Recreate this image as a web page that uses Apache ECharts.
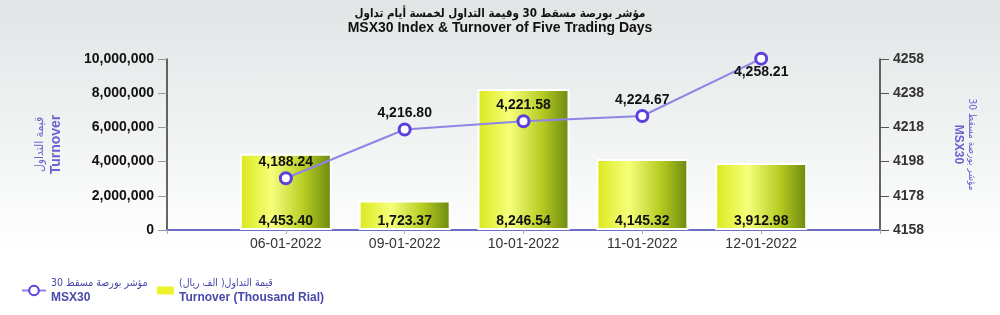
<!DOCTYPE html>
<html><head><meta charset="utf-8">
<script src="https://cdn.jsdelivr.net/npm/echarts@6/dist/echarts.min.js"></script>
<style>html,body{margin:0;padding:0;}#c{width:1000px;height:315px;background:linear-gradient(180deg,#e1e5e5 0%,#f2f4f4 45%,#ffffff 80%);}</style>
</head><body><div id="c"></div>
<script>
const categories = ['06-01-2022','09-01-2022','10-01-2022','11-01-2022','12-01-2022'];
const turnover = [4453.40, 1723.37, 8246.54, 4145.32, 3912.98]; // thousand rial
const msx30 = [4188.24, 4216.80, 4221.58, 4224.67, 4258.21];
const rightTicks = [4158, 4178, 4198, 4218, 4238, 4258];

const FONT = 'Liberation Sans, DejaVu Sans, Arial, sans-serif';
const AR = 'DejaVu Sans Condensed, DejaVu Sans, sans-serif';
const axisCats = [''].concat(categories, ['']);
const barData = [null].concat(turnover.map(v => v * 1000), [null]);
const lineData = [null].concat(msx30, [null]);
const fmt = (v, d) => v.toLocaleString('en-US', {minimumFractionDigits: d, maximumFractionDigits: d});

const legendText = {
  color: '#4a48a8', fontSize: 12, fontFamily: FONT,
  rich: {
    a: {color: '#4a48a8', fontSize: 10.5, fontWeight: 'normal', lineHeight: 14, fontFamily: AR},
    b: {color: '#4a48a8', fontSize: 12, fontWeight: 'bold', lineHeight: 14, fontFamily: FONT}
  }
};

const chart = echarts.init(document.getElementById('c'), null, {renderer: 'canvas'});
chart.setOption({
  animation: false,
  textStyle: {fontFamily: FONT},
  title: {
    text: 'مؤشر بورصة مسقط 30 وقيمة التداول لخمسة أيام تداول',
    subtext: 'MSX30 Index & Turnover of Five Trading Days',
    left: 'center', top: 3, itemGap: 1,
    textStyle: {fontSize: 11.5, fontWeight: 'bold', color: '#111', fontFamily: AR},
    subtextStyle: {fontSize: 14, fontWeight: 'bold', color: '#111', fontFamily: FONT}
  },
  legend: [
    {
      left: 16, top: 273, itemWidth: 24, itemHeight: 12,
      data: [{name: 'MSX30'}],
      formatter: () => '{a|مؤشر بورصة مسقط 30}\n{b|MSX30}',
      textStyle: legendText
    },
    {
      left: 152, top: 273, itemWidth: 17, itemHeight: 8,
      data: [{name: 'Turnover', icon: 'rect', itemStyle: {color: '#eef22a', borderWidth: 0}}],
      formatter: () => '{a|قيمة التداول( الف ريال)}\n{b|Turnover (Thousand Rial)}',
      textStyle: legendText
    }
  ],
  grid: {left: 167, right: 120, top: 59, bottom: 85},
  xAxis: {
    type: 'category', data: axisCats, boundaryGap: false,
    axisLine: {lineStyle: {color: '#6c6fc4', width: 2}},
    axisTick: {show: true, length: 4, lineStyle: {color: '#aaa'}},
    axisLabel: {color: '#333', fontSize: 14, margin: 7, interval: 0, fontFamily: FONT}
  },
  yAxis: [
    {
      type: 'value', min: 0, max: 10000000, interval: 2000000, position: 'left',
      name: '{a|قيمة التداول}\n{b|Turnover}', nameLocation: 'middle', nameRotate: 90, nameGap: 103,
      nameTextStyle: {color: '#6a62d0', fontFamily: FONT,
        rich: {
          a: {color: '#6a62d0', fontSize: 12, fontWeight: 'normal', lineHeight: 16, fontFamily: AR},
          b: {color: '#6a62d0', fontSize: 14, fontWeight: 'bold', lineHeight: 16, fontFamily: FONT}
        }},
      splitLine: {show: false},
      axisLine: {show: true, lineStyle: {color: '#333', width: 1.5}},
      axisTick: {show: true, length: 9, lineStyle: {color: '#999'}},
      axisLabel: {color: '#111', fontSize: 14, fontWeight: 'bold', margin: 13, fontFamily: FONT,
        formatter: v => fmt(v, 0)}
    },
    {
      type: 'value', min: 4158, max: 4258, position: 'right',
      name: '{a|مؤشر بورصة مسقط 30}\n{b|MSX30}', nameLocation: 'middle', nameRotate: -90, nameGap: 71,
      nameTextStyle: {color: '#6a62d0', fontFamily: FONT,
        rich: {
          a: {color: '#6a62d0', fontSize: 10, fontWeight: 'normal', lineHeight: 14, fontFamily: AR},
          b: {color: '#6a62d0', fontSize: 12, fontWeight: 'bold', lineHeight: 14, fontFamily: FONT}
        }},
      splitLine: {show: false},
      axisLine: {show: true, lineStyle: {color: '#333', width: 1.5}},
      axisTick: {show: true, length: 9, customValues: rightTicks, lineStyle: {color: '#555'}},
      axisLabel: {color: '#333', fontSize: 14, fontWeight: 'bold', margin: 13, customValues: rightTicks, fontFamily: FONT,
        formatter: v => String(v)}
    }
  ],
  series: [
    {
      name: 'Turnover', type: 'bar', yAxisIndex: 0, barWidth: 92, data: barData,
      itemStyle: {
        borderColor: '#ffffff', borderWidth: 2,
        color: new echarts.graphic.LinearGradient(0, 0, 1, 0, [
          {offset: 0, color: '#dbe81c'},
          {offset: 0.35, color: '#f6ff7a'},
          {offset: 0.7, color: '#b6cc22'},
          {offset: 1, color: '#6b8810'}
        ])
      },
      label: {show: true, position: 'insideBottom', distance: 2, color: '#111', fontSize: 14, fontWeight: 'bold',
        fontFamily: FONT, formatter: p => fmt(p.value / 1000, 2)}
    },
    {
      name: 'MSX30', type: 'line', yAxisIndex: 1, data: lineData, clip: false,
      lineStyle: {color: '#8d86e6', width: 2},
      symbol: 'circle', symbolSize: 11, showSymbol: true,
      itemStyle: {color: '#ffffff', borderColor: '#5d3fe0', borderWidth: 3},
      label: {show: true, position: 'top', distance: 2, color: '#111', fontSize: 14, fontWeight: 'bold',
        fontFamily: FONT, formatter: p => fmt(p.value, 2)},
      labelLayout: p => (p.dataIndex === 5 ? {dy: 29} : {})
    }
  ]
});
</script></body></html>
